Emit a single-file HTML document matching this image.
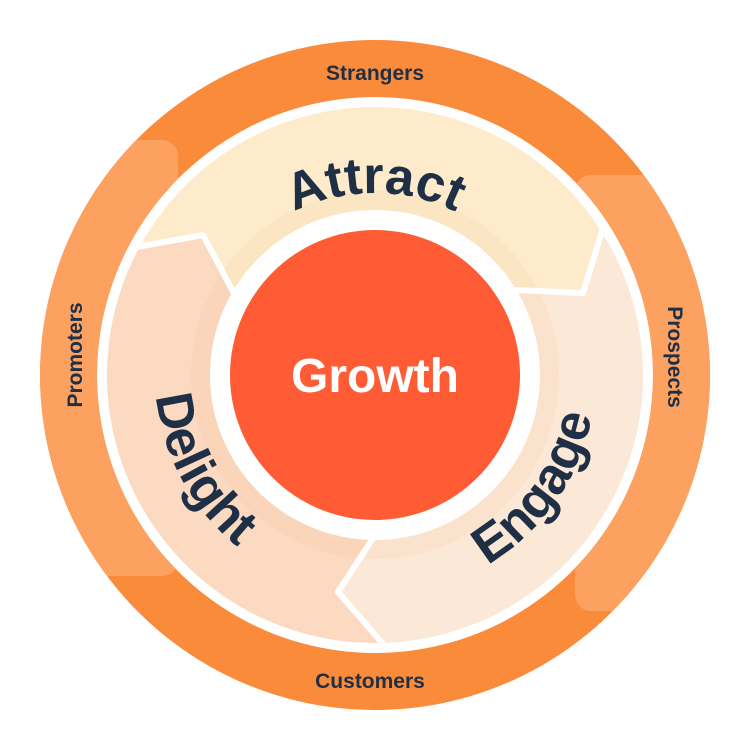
<!DOCTYPE html>
<html><head><meta charset="utf-8"><style>
html,body{margin:0;padding:0;background:#fff;width:750px;height:750px;overflow:hidden;}
svg{display:block;overflow:hidden;width:750px;height:750px;}
text{font-family:"Liberation Sans",sans-serif;font-weight:bold;}
</style></head><body>
<svg width="750" height="750" viewBox="0 0 750 750" xmlns="http://www.w3.org/2000/svg">
<defs>
<clipPath id="outer"><path clip-rule="evenodd" d="M375,40 a335,335 0 1 0 0.01,0 Z M375,97 a278,278 0 1 1 -0.01,0 Z"/></clipPath>
<clipPath id="band"><path clip-rule="evenodd" d="M375,107 a268,268 0 1 0 0.01,0 Z M375,210 a165,165 0 1 1 -0.01,0 Z"/></clipPath>
<path id="pA" d="M193,375 A182,182 0 0 1 557,375"/>
<path id="pD" d="M269.1,179.9 A222,222 0 0 0 480.9,570.1"/>
<path id="pE" d="M247.6,556.8 A222,222 0 0 0 502.4,193.2"/>
</defs>
<g clip-path="url(#outer)">
<rect x="0" y="0" width="750" height="750" fill="#F98B3A"/>
<rect x="-20" y="140" width="198" height="436" rx="16" fill="#FCA160"/>
<rect x="575" y="175" width="175" height="436" rx="16" fill="#FCA160"/>
</g>
<g clip-path="url(#band)">
<polygon fill="#FDEBCB" points="375,375 230,285 203,235 135,247 0,122 0,0 750,0 750,50 603,225 583,293 525,290"/>
<polygon fill="#FCE8D6" points="375,375 525,290 583,293 603,225 750,50 750,750 390,750 383,643 338,592 370,545"/>
<polygon fill="#FCD9C1" points="375,375 370,545 338,592 383,643 390,750 0,750 0,122 135,247 203,235 230,285"/>
<circle cx="375" cy="375" r="174" fill="none" stroke="#E8A060" stroke-opacity="0.08" stroke-width="20"/>
<g fill="none" stroke="#fff" stroke-width="6" stroke-linejoin="round">
<polyline points="236,297 203,235 120,250"/>
<polyline points="515,290 583,293 608,212"/>
<polyline points="375,535 338,592 390,652"/>
</g>
</g>
<circle cx="375" cy="375" r="145" fill="#FF5C35"/>
<text x="375" y="392" text-anchor="middle" font-size="48" fill="#fff">Growth</text>
<g fill="#1F2F45">
<text font-size="52"><textPath href="#pA" startOffset="50%" text-anchor="middle">Attract</textPath></text>
<text font-size="52"><textPath href="#pD" startOffset="50%" text-anchor="middle">Delight</textPath></text>
<text font-size="52"><textPath href="#pE" startOffset="50%" text-anchor="middle">Engage</textPath></text>
<text x="375" y="80" text-anchor="middle" font-size="21">Strangers</text>
<text x="370" y="688" text-anchor="middle" font-size="21">Customers</text>
<text transform="translate(82,355) rotate(-90)" text-anchor="middle" font-size="21">Promoters</text>
<text transform="translate(668,357) rotate(90)" text-anchor="middle" font-size="21">Prospects</text>
</g>
</svg>
</body></html>
